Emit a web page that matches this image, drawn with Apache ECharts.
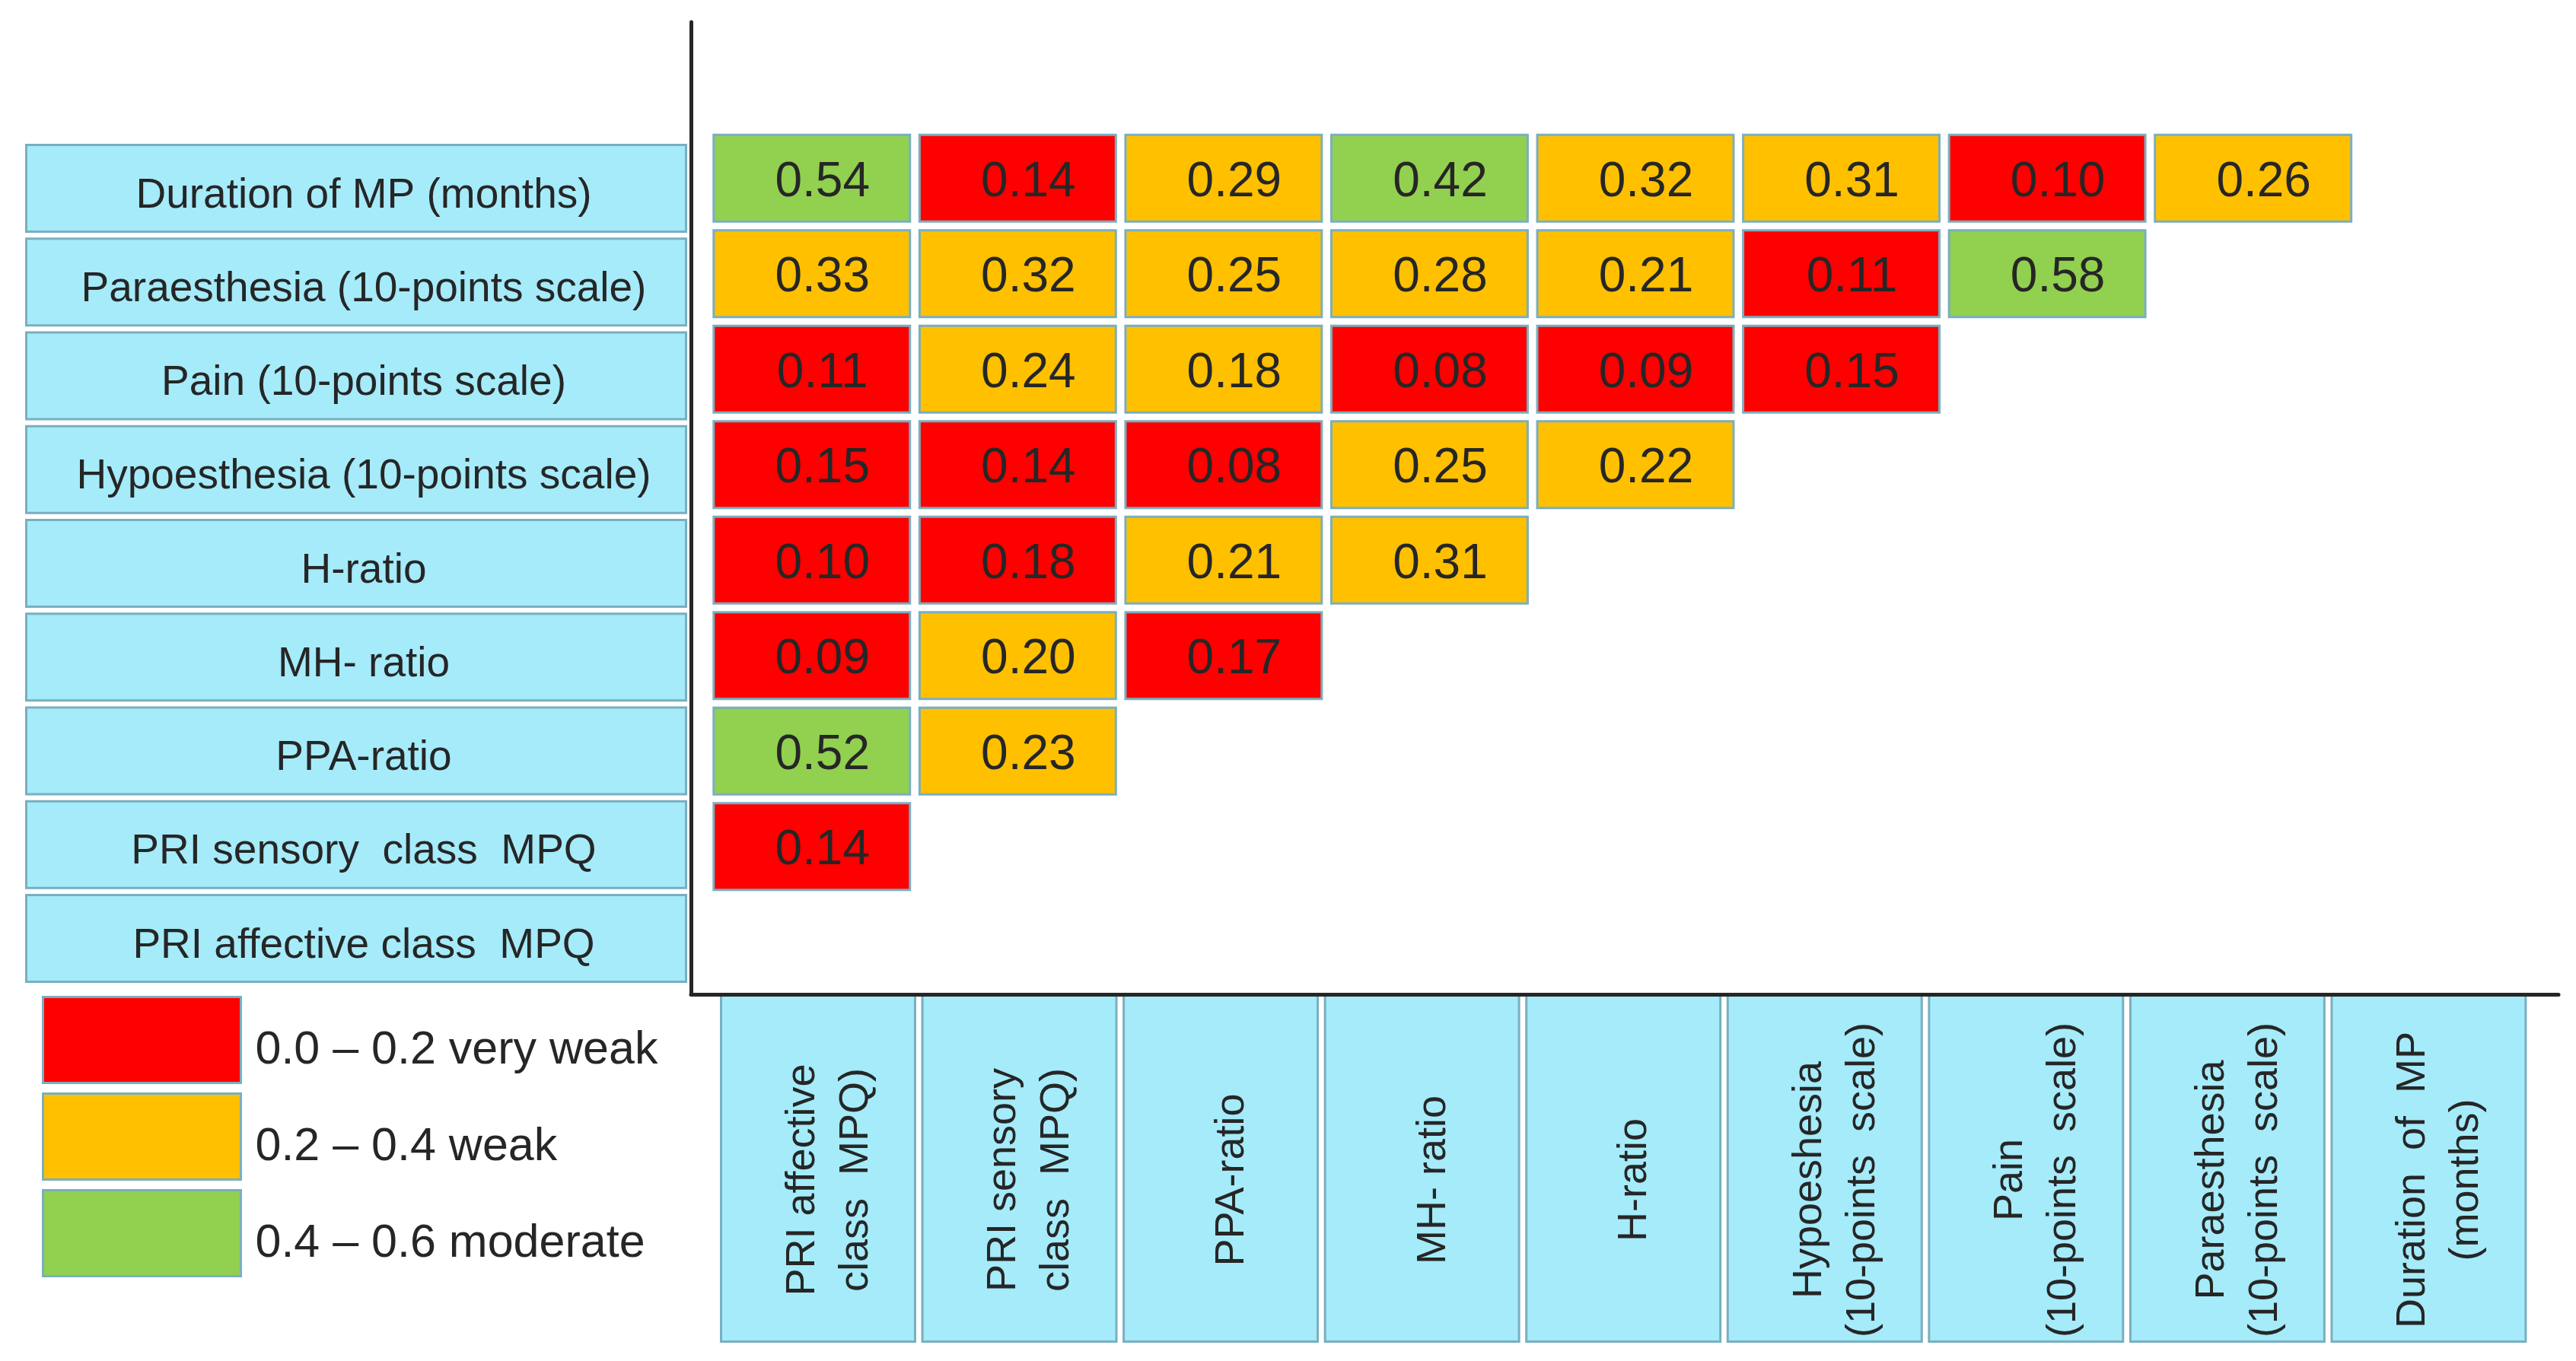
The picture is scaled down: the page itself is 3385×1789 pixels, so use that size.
<!DOCTYPE html>
<html>
<head>
<meta charset="utf-8">
<script src="https://cdn.jsdelivr.net/npm/echarts@6/dist/echarts.min.js"></script>
<style>
html,body{margin:0;padding:0;background:#ffffff;}
#chart{width:3385px;height:1789px;}
</style>
</head>
<body>
<div id="chart"></div>
<script>
// ---- categories ----
const rowLabels = [
  'Duration of MP (months)',
  'Paraesthesia (10-points scale)',
  'Pain (10-points scale)',
  'Hypoesthesia (10-points scale)',
  'H-ratio',
  'MH- ratio',
  'PPA-ratio',
  'PRI sensory  class  MPQ',
  'PRI affective class  MPQ'
];
const colLabels = [
  'PRI affective\nclass  MPQ)',
  'PRI sensory\nclass  MPQ)',
  'PPA-ratio',
  'MH- ratio',
  'H-ratio',
  'Hypoeshesia\n(10-points  scale)',
  'Pain\n(10-points  scale)',
  'Paraesthesia\n(10-points  scale)',
  'Duration  of  MP\n(months)'
];
// ---- correlation values, one array per row (columns in colLabels order) ----
const rowDuration     = [0.54, 0.14, 0.29, 0.42, 0.32, 0.31, 0.10, 0.26];
const rowParaesthesia = [0.33, 0.32, 0.25, 0.28, 0.21, 0.11, 0.58];
const rowPain         = [0.11, 0.24, 0.18, 0.08, 0.09, 0.15];
const rowHypoesthesia = [0.15, 0.14, 0.08, 0.25, 0.22];
const rowHratio       = [0.10, 0.18, 0.21, 0.31];
const rowMHratio      = [0.09, 0.20, 0.17];
const rowPPAratio     = [0.52, 0.23];
const rowPRIsensory   = [0.14];
const rowPRIaffective = [];
// ---- legend classes ----
const classNames  = ['0.0 \u2013 0.2 very weak', '0.2 \u2013 0.4 weak', '0.4 \u2013 0.6 moderate'];
const classUpper  = [0.2, 0.4, 0.6];
const classColors = ['#FF0000', '#FFC000', '#92D050'];
// cells whose printed colour class differs from its value band in the source figure
// [rowIndex, colIndex, classIndex]  (Pain x PPA-ratio = 0.18 is shown on the "weak" colour)
const classExceptions = [[2, 2, 1]];

const allRows = [rowDuration, rowParaesthesia, rowPain, rowHypoesthesia, rowHratio,
                 rowMHratio, rowPPAratio, rowPRIsensory, rowPRIaffective];

function classOf(v, r, c) {
  for (const e of classExceptions) if (e[0] === r && e[1] === c) return e[2];
  for (let i = 0; i < classUpper.length; i++) if (v < classUpper[i]) return i;
  return classUpper.length - 1;
}
const classData = classNames.map(() => []);
allRows.forEach((row, r) => row.forEach((v, c) => classData[classOf(v, r, c)].push([c, r, v])));

const FONT = '"Liberation Sans", Arial, sans-serif';
const EDGE = '#79AFC0';
const BOX = '#A5EBFA';
const INK = '#262626';

function cellItem(params, api) {
  const p = api.coord([api.value(0), api.value(1)]);
  const s = api.size([1, 1]);
  const w = s[0] - 12.6, h = s[1] - 11.5;
  return {
    type: 'group',
    children: [
      { type: 'rect', shape: { x: p[0] - w / 2, y: p[1] - h / 2, width: w, height: h },
        style: { fill: api.visual('color'), stroke: EDGE, lineWidth: 3 } },
      { type: 'text', x: p[0] + 14, y: p[1] + 6,
        style: { text: api.value(2).toFixed(2), fill: INK, font: '64px ' + FONT,
                 align: 'center', verticalAlign: 'middle' } }
    ]
  };
}

function rowLabelItem(params, api) {
  const p = api.coord([api.value(0), api.value(1)]);
  const s = api.size([1, 1]);
  const w = s[0] - 3, h = s[1] - 9.2;
  return {
    type: 'group',
    children: [
      { type: 'rect', shape: { x: p[0] - w / 2, y: p[1] - h / 2, width: w, height: h },
        style: { fill: BOX, stroke: EDGE, lineWidth: 3 } },
      { type: 'text', x: p[0] + 10, y: p[1] + 10,
        style: { text: rowLabels[params.dataIndex], fill: INK, font: '55px ' + FONT,
                 align: 'center', verticalAlign: 'middle' } }
    ]
  };
}

function colLabelItem(params, api) {
  const p = api.coord([api.value(0), api.value(1)]);
  const s = api.size([1, 1]);
  const w = s[0] - 9.6, h = s[1] - 3;
  return {
    type: 'group',
    children: [
      { type: 'rect', shape: { x: p[0] - w / 2, y: p[1] - h / 2, width: w, height: h },
        style: { fill: BOX, stroke: EDGE, lineWidth: 3 } },
      { type: 'text', x: p[0] + 15, y: p[1] + 15, rotation: Math.PI / 2,
        style: { text: colLabels[params.dataIndex], fill: INK, font: '54px ' + FONT,
                 lineHeight: 70, align: 'center', verticalAlign: 'middle' } }
    ]
  };
}

const hiddenAxis = {
  axisLine: { show: false }, axisTick: { show: false },
  axisLabel: { show: false }, splitLine: { show: false }
};

const chart = echarts.init(document.getElementById('chart'), null, { renderer: 'canvas' });
const option = {
  animation: false,
  backgroundColor: '#ffffff',
  grid: [
    { left: 931.5, top: 171.5, width: 2435, height: 1129.5, containLabel: false },
    { left: 908, top: 29, width: 2454, height: 1278, containLabel: false },
    { left: 33, top: 186, width: 870, height: 1109, containLabel: false },
    { left: 942.7, top: 1307, width: 2381, height: 458, containLabel: false }
  ],
  xAxis: [
    Object.assign({ type: 'category', gridIndex: 0, data: colLabels }, hiddenAxis),
    { type: 'value', gridIndex: 1, min: 0, max: 1, position: 'bottom', z: 10,
      axisLine: { show: true, onZero: false, lineStyle: { color: INK, width: 5 } },
      axisTick: { show: false }, axisLabel: { show: false }, splitLine: { show: false } },
    Object.assign({ type: 'category', gridIndex: 2, data: ['label'] }, hiddenAxis),
    Object.assign({ type: 'category', gridIndex: 3, data: colLabels }, hiddenAxis)
  ],
  yAxis: [
    Object.assign({ type: 'category', gridIndex: 0, data: rowLabels, inverse: true }, hiddenAxis),
    { type: 'value', gridIndex: 1, min: 0, max: 1, position: 'left', z: 10,
      axisLine: { show: true, onZero: false, lineStyle: { color: INK, width: 5 } },
      axisTick: { show: false }, axisLabel: { show: false }, splitLine: { show: false } },
    Object.assign({ type: 'category', gridIndex: 2, data: rowLabels, inverse: true }, hiddenAxis),
    Object.assign({ type: 'category', gridIndex: 3, data: ['label'] }, hiddenAxis)
  ],
  legend: {
    orient: 'vertical', left: 55, top: 1309, padding: 0,
    itemWidth: 260, itemHeight: 113, itemGap: 11, icon: 'rect',
    selectedMode: false,
    itemStyle: { borderColor: EDGE, borderWidth: 3 },
    formatter: '{t|{name}}',
    textStyle: {
      fontSize: 61, color: INK, fontFamily: FONT,
      rich: { t: { fontSize: 61, color: INK, fontFamily: FONT, padding: [28, 0, 0, 14] } }
    },
    data: classNames
  },
  series: classNames.map((name, i) => ({
    name: name,
    type: 'custom',
    xAxisIndex: 0, yAxisIndex: 0,
    itemStyle: { color: classColors[i], borderColor: EDGE, borderWidth: 3 },
    renderItem: cellItem,
    data: classData[i],
    z: 3
  })).concat([
    {
      type: 'custom', xAxisIndex: 2, yAxisIndex: 2,
      renderItem: rowLabelItem,
      data: rowLabels.map((n, i) => [0, i]),
      z: 2
    },
    {
      type: 'custom', xAxisIndex: 3, yAxisIndex: 3,
      renderItem: colLabelItem,
      data: colLabels.map((n, i) => [i, 0]),
      z: 2
    }
  ])
};
chart.setOption(option);
</script>
</body>
</html>
